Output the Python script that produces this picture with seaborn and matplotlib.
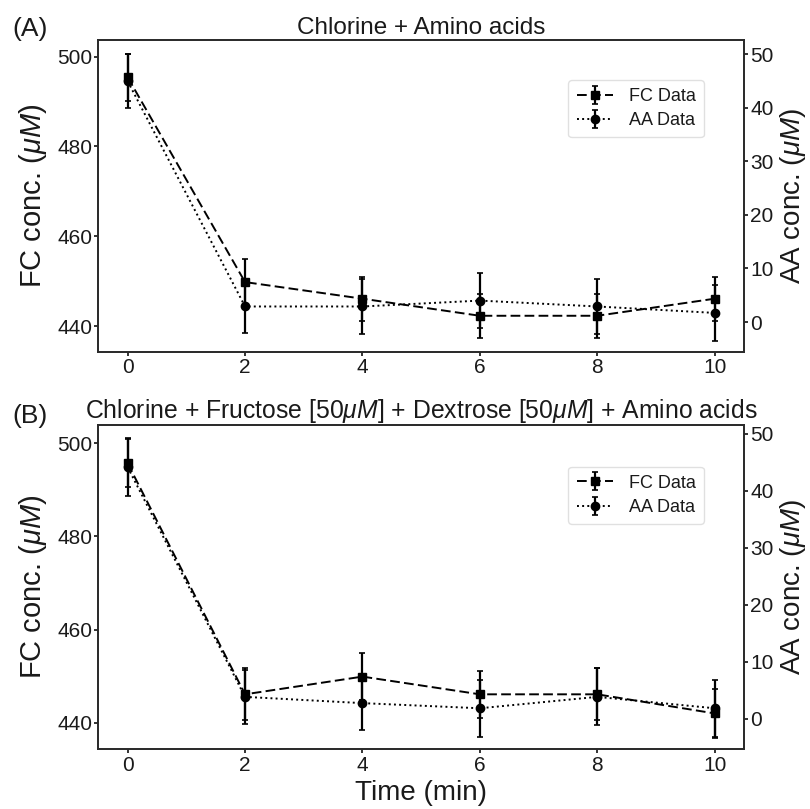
import numpy as np
import pandas as pd
import matplotlib
matplotlib.use("Agg")
import matplotlib.pyplot as plt
import seaborn as sns

# ---------------- data ----------------
time_min = [0, 2, 4, 6, 8, 10]

fc_a = [495.4, 449.8, 446.1, 442.3, 442.3, 446.1]
fc_a_err = [5.2, 5.1, 4.9, 4.9, 4.9, 4.9]
aa_a = [45.0, 2.9, 2.9, 4.0, 2.9, 1.7]
aa_a_err = [5.0, 5.0, 5.1, 5.1, 5.1, 5.2]

fc_b = [495.7, 446.1, 449.9, 446.1, 446.1, 442.0]
fc_b_err = [5.2, 5.6, 5.0, 5.0, 5.6, 5.2]
aa_b = [44.1, 3.8, 2.7, 1.8, 3.8, 1.8]
aa_b_err = [5.1, 4.8, 4.8, 5.0, 5.0, 5.0]

titles = ["Chlorine + Amino acids",
          r"Chlorine + Fructose [50$\mu M$] + Dextrose [50$\mu M$] + Amino acids"]
panel_labels = ["(A)", "(B)"]
fc_label = "FC Data"
aa_label = "AA Data"
left_ylabel = r"FC conc. ($\mu M$)"
right_ylabel = r"AA conc. ($\mu M$)"
xlabel = "Time (min)"

# ---------------- style ----------------
sns.set_theme(style="ticks")
plt.rcParams["font.family"] = ["Liberation Sans", "DejaVu Sans"]
plt.rcParams["mathtext.fontset"] = "custom"
plt.rcParams["mathtext.rm"] = "Liberation Sans"
plt.rcParams["mathtext.it"] = "Liberation Sans:italic"
plt.rcParams["text.color"] = "#1a1a1a"
plt.rcParams["axes.labelcolor"] = "#1a1a1a"

W, H = 810, 809
fig = plt.figure(figsize=(W / 100, H / 100), dpi=100)

def ax_rect(l, t, r, b):
    return [l / W, 1 - b / H, (r - l) / W, (b - t) / H]

axes_pos = [ax_rect(98.3, 40, 744, 351.7), ax_rect(98.3, 425, 744, 749.3)]
left_lims = [(434.3, 503.7), (434.3, 503.9)]
right_lims = [(-5.55, 52.7), (-5.4, 51.5)]
panel_y = [36, 423.3]
title_sizes = [17.5, 17.8]

datasets = [
    (fc_a, fc_a_err, aa_a, aa_a_err),
    (fc_b, fc_b_err, aa_b, aa_b_err),
]

spine_c = "#2a2a2a"
for i, (fc, fce, aa, aae) in enumerate(datasets):
    df = pd.DataFrame({"t": time_min, "fc": fc, "fce": fce, "aa": aa, "aae": aae})
    ax = fig.add_axes(axes_pos[i])
    ax2 = ax.twinx()

    h1 = ax.errorbar(df["t"], df["fc"], yerr=df["fce"], fmt="s", linestyle="--",
                     color="black", markersize=6, linewidth=1.4, elinewidth=1.6,
                     capsize=2.2, capthick=1.2, dashes=(5, 2.2), label=fc_label)
    h2 = ax2.errorbar(df["t"], df["aa"], yerr=df["aae"], fmt="o", linestyle=":",
                      color="black", markersize=6, linewidth=1.4, elinewidth=1.6,
                      capsize=2.2, capthick=1.2, label=aa_label)

    ax.set_xlim(-0.5, 10.5)
    ax.set_ylim(*left_lims[i])
    ax2.set_ylim(*right_lims[i])
    ax.set_xticks([0, 2, 4, 6, 8, 10])
    ax.set_yticks([440, 460, 480, 500])
    ax2.set_yticks([0, 10, 20, 30, 40, 50])

    for a in (ax, ax2):
        for s in a.spines.values():
            s.set_color(spine_c)
            s.set_linewidth(1.25)
        a.tick_params(direction="out", length=3, width=1.25, labelsize=15,
                      colors="#1a1a1a", pad=1.5)
    ax.set_ylabel(left_ylabel, fontsize=21, labelpad=6)
    ax2.set_ylabel(right_ylabel, fontsize=20, labelpad=3)
    ax.set_title(titles[i], fontsize=title_sizes[i], pad=4)
    if i == 1:
        ax.set_xlabel(xlabel, fontsize=20, labelpad=4)

    leg = ax2.legend([h1, h2], [fc_label, aa_label], loc="upper right",
                     bbox_to_anchor=(0.938, 0.872), borderaxespad=0,
                     fontsize=13, frameon=True, fancybox=True,
                     handlelength=2.0, handletextpad=0.9, borderpad=0.45,
                     labelspacing=0.4)
    leg.get_frame().set_edgecolor("#d9d9d9")
    leg.get_frame().set_linewidth(1.0)

    fig.text(12.5 / W, 1 - panel_y[i] / H, panel_labels[i], fontsize=19,
             va="baseline", ha="left")

fig.savefig("out.png", dpi=100)
